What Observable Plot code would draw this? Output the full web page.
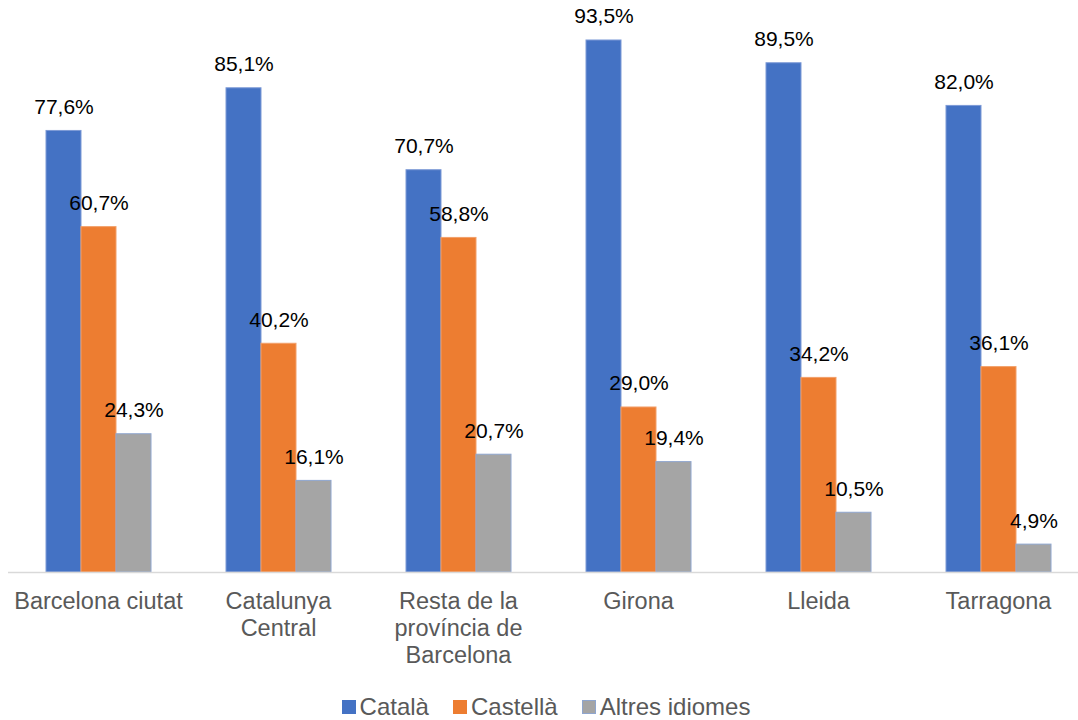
<!DOCTYPE html>
<html>
<head>
<meta charset="utf-8">
<script src="https://cdn.jsdelivr.net/npm/d3@7"></script>
<script src="https://cdn.jsdelivr.net/npm/@observablehq/plot@0.6"></script>
<style>
  html, body { margin: 0; padding: 0; background: #fff; }
  #chart { width: 1078px; height: 720px; position: relative; overflow: hidden; font-family: "Liberation Sans", Arial, sans-serif; }
  #legend { display: flex; justify-content: center; align-items: center; height: 30px; padding-left: 14px; padding-top: 4px; box-sizing: border-box;
            font-family: "Liberation Sans", Arial, sans-serif; font-size: 24px; color: #595959; }
  .item { display: flex; align-items: center; margin: 0 12px; }
  .sw { width: 14px; height: 14px; margin-right: 4px; box-sizing: border-box; }
</style>
</head>
<body>
<div id="chart"></div>
<script>
const groups = ["Barcelona ciutat", "Catalunya\nCentral", "Resta de la\nprovíncia de\nBarcelona", "Girona", "Lleida", "Tarragona"];
const series = ["Català", "Castellà", "Altres idiomes"];
const catala = [77.6, 85.1, 70.7, 93.5, 89.5, 82.0];
const castella = [60.7, 40.2, 58.8, 29.0, 34.2, 36.1];
const altres = [24.3, 16.1, 20.7, 19.4, 10.5, 4.9];

const colors = ["#4472C4", "#ED7D31", "#A5A5A5"];
const strokes = ["#7d9ad6", "#f2a06a", "#8fa6cf"];

const valuesBySeries = [catala, castella, altres];
const data = [];
groups.forEach((g, i) => {
  series.forEach((s, j) => data.push({group: g, series: s, value: valuesBySeries[j][i]}));
});

const fmt = v => d3.format(".1f")(v).replace(".", ",") + "%";

const H = 690;
const plot = Plot.plot({
  width: 1078,
  height: H,
  marginTop: 3,
  marginBottom: H - 572,
  marginLeft: 8,
  marginRight: 0,
  style: {fontFamily: "'Liberation Sans', Arial, sans-serif", background: "#fff"},
  fx: {domain: groups, range: [8, 1088], padding: 0, label: null},
  x: {domain: series, paddingInner: 0, paddingOuter: 1.071, axis: null},
  y: {domain: [0, 100], axis: null},
  color: {domain: series, range: colors},
  marks: [
    Plot.barY(data, {fx: "group", x: "series", y: "value", fill: "series",
      stroke: d => strokes[series.indexOf(d.series)], strokeWidth: 1}),
    Plot.ruleY([0], {stroke: "#d9d9d9", strokeWidth: 1.5}),
    Plot.text(data, {fx: "group", x: "series", y: "value", text: d => fmt(d.value),
      textAnchor: "middle", lineAnchor: "bottom", dy: -17, fontSize: 21, fill: "#000"}),
    Plot.axisFx({anchor: "bottom", tickSize: 0, tickPadding: 17, fontSize: 23.5, lineHeight: 1.16,
      color: "#595959", label: null})
  ]
});

const chart = document.getElementById("chart");
chart.appendChild(plot);

const legend = document.createElement("div");
legend.id = "legend";
series.forEach((s, j) => {
  const item = document.createElement("div");
  item.className = "item";
  const sw = document.createElement("div");
  sw.className = "sw";
  sw.style.background = colors[j];
  if (j === 2) sw.style.border = "1px solid " + strokes[j];
  const t = document.createElement("span");
  t.textContent = s;
  item.appendChild(sw);
  item.appendChild(t);
  legend.appendChild(item);
});
chart.appendChild(legend);
</script>
</body>
</html>
